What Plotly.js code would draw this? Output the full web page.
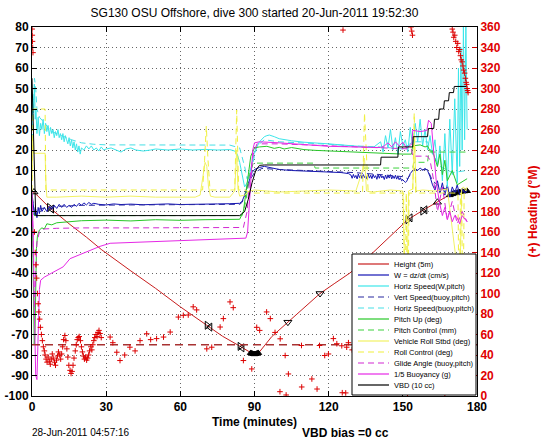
<!DOCTYPE html>
<html><head><meta charset="utf-8">
<script src="https://cdn.plot.ly/plotly-3.0.1.min.js"></script>
<style>html,body{margin:0;padding:0;background:#fff}#chart{width:546px;height:442px}</style>
</head><body><div id="chart"></div>
<script>
// ---------------- DATA ----------------
const titleText = 'SG130 OSU Offshore, dive 300 started 20-Jun-2011 19:52:30';
const timeTicks = [0, 30, 60, 90, 120, 150, 180];
const leftTicks = [-100,-90,-80,-70,-60,-50,-40,-30,-20,-10,0,10,20,30,40,50,60,70,80];
const leftTickText = ['-100','-90','-80','-70','-60','-50','-40','-30','-20','-10','0','10','20','30','40','50','60','70','80'];
const rightTicks = [0,20,40,60,80,100,120,140,160,180,200,220,240,260,280,300,320,340,360];

const legendNames = ['Height (5m)','W = dz/dt (cm/s)','Horiz Speed(W,pitch)','Vert Speed(buoy,pitch)',
  'Horiz Speed(buoy,pitch)','Pitch Up (deg)','Pitch Control (mm)','Vehicle Roll Stbd (deg)',
  'Roll Control (deg)','Glide Angle (buoy,pitch)','1/5 Buoyancy (g)','VBD (10 cc)'];

// Height (5m)
const heightT = [0,2,7,15,22,28,40,50,60,71, 77,84.5,88,90.5,92,97,103.5,110,116.5,122.5, 128.6,134,140,146,152,158,164,168,172,176];
const heightV = [0,-2,-8,-16,-22.5,-28.5,-39,-47.5,-56.5,-65.5, -70.8,-76,-78.5,-79.6,-78.5,-71,-64,-57,-50,-45, -40,-34.5,-27.5,-21,-14,-9.5,-5.5,-2.5,-0.7,0];

// event markers on the height trace
const mkUpT = [0.8, 164];                        const mkUpV = [-0.5, -5.5];
const mkRightT = [7, 70.8, 84.1, 152, 158];      const mkRightV = [-8, -65.5, -75.8, -14, -9.8];
const mkLeftT = [8, 72, 85, 153, 159];           const mkLeftV = [-8.8, -66.4, -76.5, -13.1, -9.2];
const mkDownT = [103.5, 116.5];                  const mkDownV = [-64, -50];
const mkFillT = [88.5,89,89.5,90,90.5,91,91.5, 169,170,171,172,173,174,175,176];
const mkFillV = [-79,-79.3,-79.5,-79.6,-79.5,-79.3,-79, -2,-1.5,-1.1,-0.8,-0.5,-0.3,-0.1,0];

// W = dz/dt
const wT = [0,0.5,1,1.5,2,2.5,3,3.5,4,
  5,6,7,8,9,10,11,12,13,14, 15,16,17,18,19,20,21,22,23,24, 25,
  27,30,33,36,40, 45,50,55,60,65,70,75,80,
  82,83,84,85,86,87,88,89,90,
  92,94,96,100,105,110,115,120,125,128,
  129,129.5,130,130.5,131,131.5,132,132.5,133,133.5,
  134,134.5,135,135.5,136,136.5,137,137.5,138,138.5,
  139,139.5,140,140.5,141,141.5,142,142.5,143,143.5,
  144,144.5,145,145.5,146,146.5,147,147.5,148,148.5,
  149,149.5,150,
  150.5,151,151.5,152,153,154,155,156,157,158,
  159,160,161,162,163,164,165,166,167,168,
  169,170,171,172,173,174,175,176];
const wV = [-1,-6,-12,-9,-13,-8,-11,-7,-10,
  -8,-10,-7.5,-9,-7,-8.5,-6.5,-8,-6.5,-8, -7,-8,-6.5,-7.5,-6,-7,-5.8,-6.8,-5.6,-6.5, -6,
  -6.5,-6.8,-6.3,-6.6,-6.4, -6.7,-6.5,-6.3,-6.6,-6.4,-6.5,-6.3,-6.2,
  -6.2,-6,-6,-5,-2,2,6,9,10.5,
  11.5,12,11.5,10.5,10,9.8,9.5,9.3,9,8.5,
  7.8,6.2,8.1,6.5,7.6,5.9,8.3,6.4,7.9,6.1,
  8,6.6,7.4,5.8,8.2,6.3,7.7,6,8.1,6.5,
  7.5,5.7,7.9,6.2,8,6.4,7.3,5.6,7.8,6,
  7.6,6.3,8,5.9,7.4,6.1,7.7,5.8,7.2,5.5,
  6.5,5,5.5,
  4.8,4.2,4.6,6,8.5,10,11,10,11.2,10.2,
  11,10,7,3,0.5,5,-1,4,-2,3,
  -3,2,-1,3,-2,1,-1,0];

// Horiz Speed (W,pitch)
const horizT1 = [0,0.3,0.6,1,1.3,1.6,
  2,2.5,3,3.5,4,4.5,5,5.5,6,6.5, 7,7.5,8,8.5,9,9.5,10,10.5,11,11.5,
  12,12.5,13,13.5,14,14.5,15,15.5,16,16.5, 17,17.5,18,18.5,19,19.5,20,
  21,22,23,24,25,26,27,28,29,30,
  32,34,36,38,40,42,45,48,50,
  55,60,65,70,75,80,
  82,83,84,85,86,87,88,89,90,
  92,94,95,96,98,100,
  105,110,120,127];
const horizV1 = [30,45,38,52,35,40,
  28,36,27,33,30,35,28,33,29,32, 27,31,28,30,26,29,27,30,26,28,
  25,28,24,27,25,23,26,22,25,21, 24,20,23,19,22,18,21,
  20,22,20.5,22,20,21,19.5,21.5,20,20.5,
  21,20,19,20.5,21,20,19.5,20,20.5,
  20,20.5,20,20.3,20,20.2,
  19.5,18,14,8,2,4,8,14,19,
  24,26.5,27,27.3,26.5,25.5,
  24.5,23.8,23,22.2];
const horizT2 = [130,135,138,
  141,142,143,144,145,146,147,148,149,150, 151,152,153,154,155,156,157,158,159,160,
  161,162,163,164,165,166,167,168,169,170, 171,172,172.5,173,173.5,174,174.5,175,175.5,176];
const horizV2 = [21.8,21.5,21.2,
  24,19,27,21,30,20,26,18,29,22, 25,19,31,21,33,24,35,22,30,20,
  27,18,25,12,22,5,28,2,35,8, 45,4,60,12,70,20,80,25,80,30];

// Vert Speed (buoy,pitch)
const vertT = [0,1,2,4,10,20,40,60,84,85, 86,87,88,90,93,100,110,120,130,141, 150,152,154,160,162,165,170,176];
const vertV = [-3,-10,-9,-8.5,-7.5,-7,-6.8,-6.6,-6.5,-5.5, -3,1,5,9,11,10.5,10,9.5,9,8, 7,6,10,10.5,5,2,0,0];

// Horiz Speed (buoy,pitch)
const horizBT = [0,0.5,1,1.5,2,3,5,8,12,16, 20,25,30,40,50,60,70,80,84,86, 87,89,91,94,100,110,120,130,141,150, 154,160,162,165,170,176];
const horizBV = [20,45,55,50,40,36,33,29,27,25, 23.5,22.8,22.5,22.5,22.6,22.4,22.5,22.4,21,12, 6,12,22,25,24,23.5,22.8,22,21.5,20.5, 24,24,18,12,9,10];

// Pitch Up (deg)
const pitchT = [0,0.3,0.6,0.9,1.2,1.5,1.8,2.2,3,4, 5,6,8,10,15,20,30,40,50,60, 70,80,84,85.5,86.5,87.5,88.5,90,92,95,
  98,100,102,105,110,115,120,125,130,135, 141,145,150,153.5,154,157,159,160,161,162, 163,164,165,166,167,168,170,172,176];
const pitchV = [0,-20,-50,-75,-70,-45,-28,-22,-19,-18, -18.5,-16,-16.5,-15.5,-15,-14.5,-14.2,-14.6,-14,-14.3, -14,-13.8,-13.8,-10,0,10,17,21,21.5,21.8,
  20.8,21.3,20.5,21.2,20.2,19.8,19.5,19.2,19,18.8, 18.5,18.3,18,18,22,22.5,21.5,22,19.5,19.5, 16,12,18,8,15,5,10,3,6];

// Pitch Control (mm)
const pitchCtlT = [0,1,85,86.5,88,89.5,114,114.5,154,154.5,160,160.5,176];
const pitchCtlV = [-10,-12,-12,-5,8,13.6,13.6,11.2,11.2,14,14,19,19];

// Vehicle Roll Stbd (deg)
const rollT = [0,0.3,0.6,5.3,5.6,6,10,20,30,40, 50,60,66,68,69,70,70.7,71.4,72.2,74, 80,82,82.8,83.3,84,86,88,90,100,110,
  120,131,133.7,134.5,135.3,138,145,150,150.6,151.2, 151.8,152.3,154,154.7,155.4,158,163,168,172.2,172.8, 173.3,173.8,174.5,175.5,176];
const rollV = [5,25,18.4,18.4,5,-3,-3,-2.5,-3,-2.5, -3,-2.8,-3,-2,5,14,12,2,-2.5,-3, -3,0,20,1,-2.5,-2,0,0.5,-0.5,0,
  0.5,0,10,16,0,-0.5,0.5,0,-30,-60, -40,0,1,25,0,0.5,0,1,-40,-75, -30,1,2,0,2];

// Roll Control (deg)
const rollCtlT = [0,0.4,1.5,5.3,5.6,69,69.8,70.5,71.2,72, 82,82.8,83.6,86,89,133.7,134.5,135.3,136,150.3,
  150.8,151.4,152,152.5,154,154.6,155.2,172.3,172.8,173.3, 173.8,174.3,174.8,176];
const rollCtlV = [0,40,40,40,0.5,0.5,15,31.6,15,0.5, 0.5,39.5,0.5,0.5,-1,-1,38,20,-1,-1,
  -70,-1,-78,-1,-1,38,-1,-1,-70,-1, -1,-75,-1,-1];

// Glide Angle (buoy,pitch)
const glideT = [0,0.5,1,1.5,2,3,5,10,20,40, 60,85.5,87,88,89.5,91,100,110,120,130, 141,145,150,153.5,154,160,161,162.5,164,166, 168,170,172,174,176];
const glideV = [0,-40,-60,-40,-25,-20,-18.5,-18.2,-18,-18, -17.8,-17.8,-10,5,18,23,23,22.5,22,21.5, 21,20.8,20.5,20.5,17,17,15,5,-10,2, -14,-5,-16,-10,-15];

// 1/5 Buoyancy (g)
const buoyT = [0,0.5,1,1.5,2,2.5,3,3.5,5,8, 12.6,15.4,19.4,23,27.5,31.6,42,53.1,63,73, 86.5,87.2,87.9,88.6,89.3,90,92,100,110,120,
  130,141,142.5,144,145.5,147,148.5,150,151.5,153, 153.7,154,157,159.7,160.4,161.5,162.5,163.5,164.7,166, 167,168,169,170,171,172,173,174,176];
const buoyV = [-2,-20,-60,-90,-92,-65,-48,-43.5,-42,-40, -37,-33,-31,-29,-27,-25.5,-25,-24.7,-24,-23.5, -23,-20,-5,10,20,23.5,24,23.5,22.5,21.8,
  21.5,21.2,22,23.5,21.5,24,22,23.8,21,22.5, 23,29.6,29,29.5,34.5,33,20,5,-5,-12, -8,-14,-10,-15,-12,-13,-16,-12,-15];

// VBD (10 cc)
const vbdT = [0,0.5,1,1.5,84,86,87.5,89,90.5,92, 94,141,141.2,148,148.2,154,154.2,160,160.3,162.5, 162.8,164.5,164.8,166.5,166.8,168.5,168.8,170.5,170.8,176];
const vbdV = [55,30,0,-12,-12,-10,-4,4,10,12.5, 12.7,12.7,16.5,16.5,21.5,21.5,26.5,26.5,30.5,30.5, 35,35,40,40,44,44,48,48,51,51];

// Heading (deg, right axis)
const headingT = [0.05,0.12,0.2,0.28,0.4,1.0,1.3,1.6,1.9,2.2,
  2.5,2.8,3.1,3.4,3.8,4.2,4.6,5.0,
  5.3,5.7,6.1,6.5,7,7.4,7.8,8.2,8.6,9.1,
  9.5,9.9,10.3,10.7,11.2,11.6,12,12.4,12.8,13.3,
  13.7,14.1,14.5,14.9,15.4,15.8,16.2,16.6,17,17.5,
  17.9,18.3,18.7,19.1,19.6,20,20.4,20.8,21.2,21.7,
  22.1,22.5,22.9,23.3,23.8,24.2,24.6,25,25.4,25.9,
  26.3,26.7,27.1,27.5,28,
  31.6,32.7,34.3,35.6,37.5,39.6,41.7,43.7,46.4,48,
  50.4,53.2,55.9,59.2,61.2,63.2,65.2,66.6,70.7,72.7,
  76.1,77.4,80.1,81.4,85.5,88.9,90.9,92.1,94.9,96.4,
  98.3,100.4,102.4,103.7,100.3,102.8,109,113.2,109.1,115.3,
  116.3,118.4,119.9,121.9,123.3,125.3,127.3,125.5,125.8,126.9,
  128,129.5,131,132.5,134,135.5,137,138.5,140,141.5,
  143,144.5,146,147.5,149,150.5,151.9,152.5,153.3,153.6,
  153.9,155,156.5,158,159.5,161,162.5,164,165.5,167,
  170,170.3,170.6,171,171.4,171.8,172.2,172.6,173,173.3,
  173.6,174,174.3,174.6,175,175.3,175.6,175.8,176,176.2,
  176.4];
const headingV = [358,352,346,340,335,160,140,128,115,100,
  90,82,75,67,60,54,48,44,
  40,36,33,38,34,31,36,41,37,33,
  30,35,39,43,40,36,41,48,55,59,
  54,46,38,30,25,22,24,30,37,44,
  50,55,57,58,54,48,43,39,36,38,
  35,37,40,44,48,45,50,54,57,60,
  58,62,64,61,57,
  57.5,52,42.7,34.6,40,47.6,44,54,60.7,55,
  56,57.5,62.4,77,78.7,79,87,84,46,47.6,
  67.3,75.5,91.8,86.2,34.6,26.4,67,64,82,75.5,
  62,55.8,39.5,21.5,4.2,1,49.3,16.6,8.8,6.8,
  49.3,39.5,41,56,51,49,47.6,3.2,357,3,
  52,45,56,38,48,60,44,30,52,47,
  58,40,50,35,55,45,2,40,360,356,
  352,48,55,42,50,58,45,52,40,2,
  358,355,350,352,346,340,344,336,338,332,
  328,326,322,318,315,310,306,304,300,298,
  296];
const headingDesiredT = [0, 180];
const headingDesiredV = [50, 50];

// ---------------- STYLE / BUILD ----------------
const horizT = horizT1.concat(horizT2);
const horizV = horizV1.concat(horizV2);
const seriesX = [heightT, wT, horizT, vertT, horizBT, pitchT, pitchCtlT, rollT, rollCtlT, glideT, buoyT, vbdT];
const seriesY = [heightV, wV, horizV, vertV, horizBV, pitchV, pitchCtlV, rollV, rollCtlV, glideV, buoyV, vbdV];
const DASH = '6px,4px';
const styles = [
  {color:'#c81e1e', dash:'solid'},
  {color:'#1414b4', dash:'solid'},
  {color:'#3ce6ea', dash:'solid'},
  {color:'#2828a0', dash:DASH},
  {color:'#46e0e6', dash:DASH},
  {color:'#28c828', dash:'solid'},
  {color:'#3cd23c', dash:DASH},
  {color:'#f2f264', dash:'solid'},
  {color:'#f0f03c', dash:DASH},
  {color:'#d228d2', dash:DASH},
  {color:'#e628e6', dash:'solid'},
  {color:'#000000', dash:'solid'}
];

const traces = [];
legendNames.forEach((nm, i) => {
  traces.push({type:'scatter', mode:'lines', name:nm, x:seriesX[i], y:seriesY[i],
    line:{color:styles[i].color, dash:styles[i].dash, width:1}, hoverinfo:'skip'});
  if (i === 0) {
    const mk = (x, y, sym, size) => ({type:'scatter', mode:'markers', x:x, y:y, hoverinfo:'skip',
      marker:{symbol:sym, size:size, color:'#000', line:{color:'#000', width:1}}});
    traces.push(mk(mkUpT, mkUpV, 'triangle-up-open', 7));
    traces.push(mk(mkRightT, mkRightV, 'triangle-right-open', 7));
    traces.push(mk(mkLeftT, mkLeftV, 'triangle-left-open', 7));
    traces.push(mk(mkDownT, mkDownV, 'triangle-down-open', 7));
    traces.push(mk(mkFillT, mkFillV, 'triangle-up', 6));
  }
});
traces.push({type:'scatter', mode:'lines', x:headingDesiredT, y:headingDesiredV, yaxis:'y2', hoverinfo:'skip',
  line:{color:'#a83232', dash:'8px,5px', width:1.5}});
traces.push({type:'scatter', mode:'markers', x:headingT, y:headingV, yaxis:'y2', hoverinfo:'skip',
  marker:{symbol:'cross-thin', size:4, color:'#dc0000', line:{color:'#dc0000', width:1}}});

// pixel helpers for legend/annotations (plot area: x 32..477, y 27..396)
const PX0 = 32, PW = 445, PY1 = 396, PH = 369;
const px = x => (x - PX0) / PW;
const py = y => (PY1 - y) / PH;

const shapes = [{type:'rect', xref:'paper', yref:'paper', x0:px(352), x1:px(476), y0:py(395), y1:py(254),
  fillcolor:'#fff', line:{color:'#000', width:1}, layer:'above'}];
const annotations = [];
legendNames.forEach((nm, i) => {
  const yy = 264 + 11 * i;
  shapes.push({type:'line', xref:'paper', yref:'paper', x0:px(358), x1:px(389), y0:py(yy), y1:py(yy),
    line:{color:styles[i].color, dash:styles[i].dash, width:1.2}, layer:'above'});
  annotations.push({xref:'paper', yref:'paper', x:px(392), y:py(yy), xanchor:'left', yanchor:'middle',
    text:nm, showarrow:false, font:{size:7.5, color:'#000'}});
});
annotations.push({xref:'paper', yref:'paper', x:px(30), y:py(432), xanchor:'left', yanchor:'middle',
  text:'28-Jun-2011 04:57:16', showarrow:false, font:{size:10}});
annotations.push({xref:'paper', yref:'paper', x:px(300), y:py(433), xanchor:'left', yanchor:'middle',
  text:'VBD bias =0 cc', showarrow:false, font:{size:12, weight:'bold'}});

const gridStyle = {showgrid:true, gridcolor:'#666', griddash:'1px,3px', gridwidth:1};
const layout = {
  width:546, height:442,
  margin:{l:32, r:69, t:27, b:46, pad:0},
  paper_bgcolor:'#fff', plot_bgcolor:'#fff',
  showlegend:false,
  font:{family:'Liberation Sans, Arial, Helvetica, sans-serif', color:'#000', size:12},
  title:{text:titleText, font:{size:12}, xref:'paper', x:0.5, xanchor:'center', yref:'container', y:1 - 13/442, yanchor:'middle'},
  xaxis:Object.assign({range:[0,180], tickmode:'array', tickvals:timeTicks, ticks:'inside', ticklen:5, tickcolor:'#000',
    showline:true, linecolor:'#000', linewidth:1, mirror:'ticks', zeroline:false,
    tickfont:{size:12, weight:'bold'},
    title:{text:'Time (minutes)', font:{size:12, weight:'bold'}, standoff:4}}, gridStyle),
  yaxis:Object.assign({range:[-100,80], tickmode:'array', tickvals:leftTicks, ticktext:leftTickText, ticks:'inside', ticklen:5,
    tickcolor:'#000', showline:true, linecolor:'#000', linewidth:1, zeroline:false,
    tickfont:{size:12, weight:'bold'}}, gridStyle),
  yaxis2:{overlaying:'y', side:'right', range:[0,360], tickmode:'array', tickvals:rightTicks, ticks:'inside', ticklen:5,
    tickcolor:'#d00000', showline:true, linecolor:'#000', linewidth:1, showgrid:false, zeroline:false,
    tickfont:{size:12, weight:'bold', color:'#e00000'},
    title:{text:'(+) Heading (°M)', font:{size:12, weight:'bold', color:'#e00000'}, standoff:28}},
  shapes:shapes,
  annotations:annotations
};
Plotly.newPlot('chart', traces, layout, {staticPlot:true, displayModeBar:false});
</script></body></html>
